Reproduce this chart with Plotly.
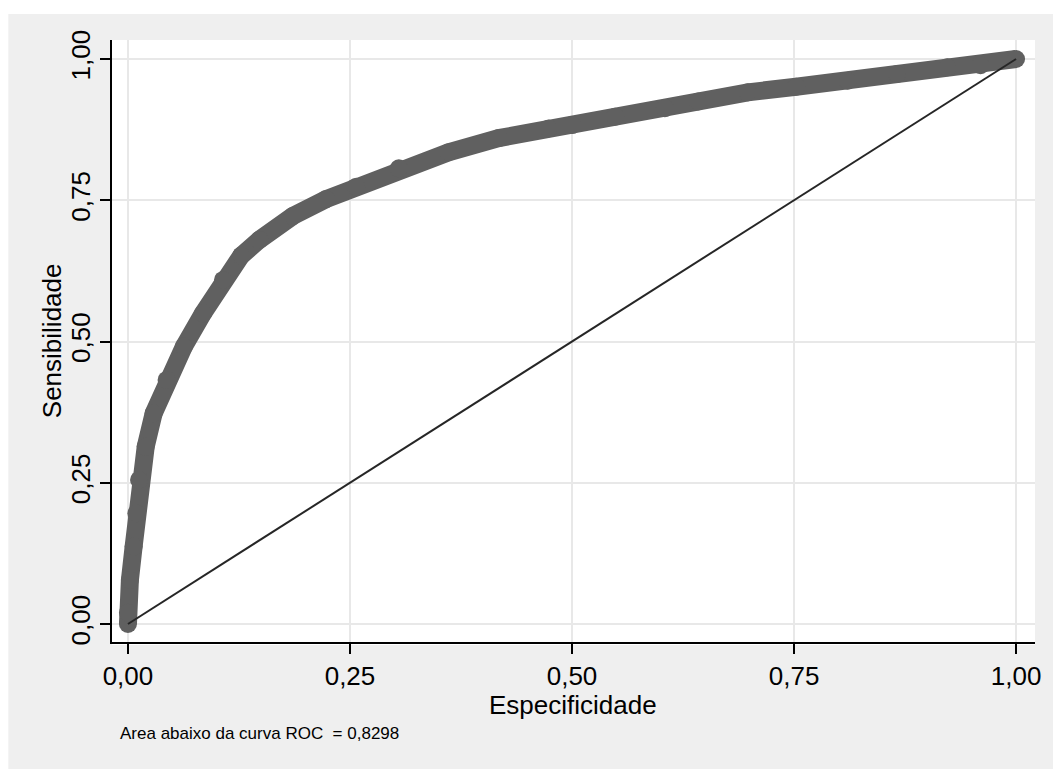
import plotly.graph_objects as go

# ROC curve points (Especificidade axis, Sensibilidade)
especificidade = [0.0, 0.0, 0.0022, 0.0064, 0.0095, 0.0125, 0.0200, 0.029, 0.0435, 0.063,
                  0.0846, 0.107, 0.1276, 0.148, 0.1856, 0.223, 0.257, 0.305, 0.361, 0.4175,
                  0.4736, 0.5, 0.5485, 0.6046, 0.642, 0.698, 0.7523, 0.8103, 0.866, 0.9226,
                  0.96, 1.0]
sensibilidade = [0.0, 0.02, 0.078, 0.137, 0.196, 0.255, 0.314, 0.373, 0.432, 0.491,
                 0.550, 0.609, 0.652, 0.680, 0.722, 0.752, 0.774, 0.8065, 0.835, 0.860,
                 0.877, 0.883, 0.898, 0.913, 0.925, 0.941, 0.951, 0.9616, 0.9735, 0.9853,
                 0.989, 1.0]
ref_x = [0.0, 1.0]
ref_y = [0.0, 1.0]
tick_vals = [0, 0.25, 0.5, 0.75, 1.0]
tick_text = ["0,00", "0,25", "0,50", "0,75", "1,00"]
auc_text = "Area abaixo da curva ROC  = 0,8298"

FONT = "Liberation Sans, Arial, sans-serif"
W, H = 1053, 769
# plot area in page pixels: left 112, right 1038, top 40, bottom 642
ML, MT = 112, 40
MR = W - 1038
MB = H - 642
PW, PH = W - ML - MR, H - MT - MB

def px_x(s):
    return (s - ML) / PW

def px_y(s):
    return (H - MB - s) / PH

fig = go.Figure()
fig.add_trace(go.Scatter(
    x=especificidade, y=sensibilidade, mode="lines+markers",
    line=dict(color="#606060", width=18),
    marker=dict(color="#606060", size=18),
    hoverinfo="skip", showlegend=False,
))
fig.add_trace(go.Scatter(
    x=ref_x, y=ref_y, mode="lines",
    line=dict(color="#262626", width=2),
    hoverinfo="skip", showlegend=False,
))

axis_common = dict(
    showline=True, linecolor="black", linewidth=1.5,
    ticks="outside", ticklen=10, tickwidth=1.5, tickcolor="black",
    showgrid=True, gridcolor="#e8e8e8", gridwidth=2,
    zeroline=False,
    tickmode="array", tickvals=tick_vals, ticktext=tick_text,
    tickfont=dict(family=FONT, size=26, color="black"),
)

fig.update_layout(
    width=W, height=H,
    margin=dict(l=ML, r=MR, t=MT, b=MB, pad=0),
    paper_bgcolor="#efefef", plot_bgcolor="white",
    xaxis=dict(range=[-0.017957, 1.021324], **axis_common),
    yaxis=dict(range=[-0.03186, 1.03363], tickangle=-90, **axis_common),
    shapes=[
        # white page strips above and left of the grey panel
        dict(type="rect", xref="paper", yref="paper", layer="below",
             x0=px_x(-5), x1=px_x(1100), y0=px_y(14), y1=px_y(-5),
             fillcolor="white", line=dict(width=0)),
        dict(type="rect", xref="paper", yref="paper", layer="below",
             x0=px_x(-5), x1=px_x(8), y0=px_y(800), y1=px_y(-5),
             fillcolor="white", line=dict(width=0)),
        dict(type="rect", xref="paper", yref="paper", layer="below",
             x0=0, x1=1, y0=px_y(645), y1=1,
             fillcolor="white", line=dict(width=0)),
    ],
    annotations=[
        dict(text="Especificidade", xref="paper", yref="paper",
             x=px_x(574), y=px_y(705), xanchor="center", yanchor="middle",
             showarrow=False, font=dict(family=FONT, size=26, color="black")),
        dict(text="Sensibilidade", xref="paper", yref="paper",
             x=px_x(52), y=px_y(341), xanchor="center", yanchor="middle",
             textangle=-90, showarrow=False,
             font=dict(family=FONT, size=26, color="black")),
        dict(text=auc_text, xref="paper", yref="paper",
             x=px_x(118), y=px_y(733), xanchor="left", yanchor="middle",
             showarrow=False, font=dict(family=FONT, size=17, color="black")),
    ],
)

fig.write_html(
    "out.html",
    config={"displayModeBar": False},
    post_script="document.body.style.margin='0';document.documentElement.style.overflow='hidden';",
)
